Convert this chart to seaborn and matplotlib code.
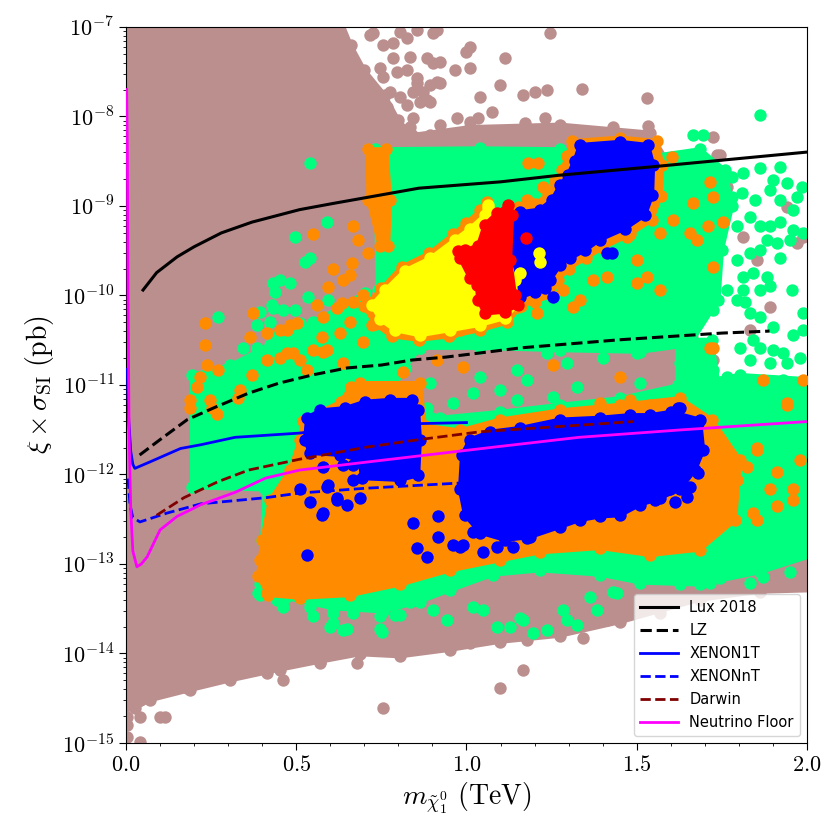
import numpy as np
import seaborn as sns
import matplotlib
matplotlib.use("Agg")
import matplotlib.pyplot as plt
from matplotlib.ticker import FuncFormatter, MultipleLocator, NullFormatter

plt.rcParams['mathtext.fontset'] = 'cm'

# ---- exclusion / projection curves ----
lux_x = [0.05, 0.09, 0.15, 0.20, 0.28, 0.37, 0.51, 0.61, 0.71, 0.86, 1.10, 1.27, 1.55, 2.00]
lux_y = [1.15e-10, 1.8e-10, 2.7e-10, 3.5e-10, 5.0e-10, 6.6e-10, 9.1e-10, 1.07e-9, 1.25e-9,
         1.58e-9, 1.86e-9, 2.2e-9, 2.75e-9, 4.0e-9]

lz_x = [0.04, 0.10, 0.18, 0.26, 0.36, 0.45, 0.55, 0.65, 0.75, 0.84, 0.94, 1.04, 1.16, 1.45, 1.75, 1.89]
lz_y = [1.65e-12, 2.45e-12, 4.1e-12, 5.6e-12, 8.1e-12, 1.05e-11, 1.3e-11, 1.55e-11, 1.67e-11,
        1.9e-11, 2.05e-11, 2.28e-11, 2.6e-11, 3.2e-11, 3.8e-11, 4.0e-11]

x1t_x = [0.004, 0.008, 0.014, 0.020, 0.026, 0.07, 0.16, 0.22, 0.32, 0.51, 0.54, 0.86, 1.0]
x1t_y = [1.5e-11, 4e-12, 1.8e-12, 1.3e-12, 1.17e-12, 1.38e-12, 1.95e-12, 2.15e-12, 2.6e-12,
         2.9e-12, 3.0e-12, 3.7e-12, 3.8e-12]

xnt_x = [0.006, 0.012, 0.020, 0.041, 0.12, 0.22, 0.41, 0.51, 0.70, 1.0]
xnt_y = [9e-13, 4.5e-13, 3.3e-13, 2.95e-13, 3.7e-13, 4.7e-13, 5.5e-13, 6.2e-13, 7.0e-13, 8.1e-13]

darwin_x = [0.09, 0.17, 0.27, 0.36, 0.51, 0.71, 0.86, 1.04, 1.49]
darwin_y = [3.5e-13, 5.5e-13, 8.3e-13, 1.12e-12, 1.48e-12, 2.03e-12, 2.45e-12, 3.0e-12, 3.9e-12]

nu_x = [0.002, 0.004, 0.006, 0.009, 0.014, 0.020, 0.032, 0.045, 0.062, 0.10, 0.15, 0.22,
        0.32, 0.41, 0.51, 0.71, 1.07, 1.33, 1.63, 2.0]
nu_y = [2e-8, 4e-9, 1e-10, 3e-12, 4e-13, 1.4e-13, 9.3e-14, 1.0e-13, 1.2e-13, 2.4e-13, 3.4e-13,
        4.6e-13, 6.3e-13, 9.1e-13, 1.12e-12, 1.38e-12, 2.0e-12, 2.6e-12, 3.15e-12, 3.9e-12]

# ---- scan points: dense areas (outline) + loose points ----
brown_area_x = [-0.02, 0.63, 0.66, 0.70, 0.76, 0.80, 0.84, 1.01, 1.275, 1.539, 1.59, 1.656, 1.686,
                1.745, 1.92, 2.02, 2.02, 1.862, 1.686, 1.451, 1.275, 1.098, 0.952, 0.805, 0.687,
                0.57, 0.452, 0.305, 0.188, 0.07, 0.026, -0.02]
brown_area_y = [1.2e-7, 1.2e-7, 6.3e-8, 3.3e-8, 1.74e-8, 9.1e-9, 6.2e-9, 7.6e-9, 8.1e-9, 6.6e-9,
                3.2e-9, 2.5e-10, 1.15e-11, 1.12e-12, 5.2e-13, 3.1e-13, 5.1e-14, 4.9e-14, 4.0e-14,
                2.24e-14, 1.58e-14, 1.35e-14, 1.1e-14, 9.3e-15, 9.8e-15, 8.1e-15, 6.6e-15, 5.0e-15,
                3.9e-15, 3.0e-15, 2.45e-15, 2.2e-15]
brown_x = [0.725, 0.784, 0.834, 0.755, 0.805, 0.767, 0.855, 0.775, 0.834,
           0.902, 1.245, 1.01, 1.113, 1.098, 1.04, 1.166, 1.20, 1.236, 1.339, 1.53, 1.43, 1.533,
           1.724, 1.736, 0.972, 1.034, 0.902, 0.922, 0.884, 1.172, 1.23, 0.966, 1.075,
           0.717, 0.755, 0.805, 0.855, 0.913, 0.825, 0.746, 0.784, 0.796, 0.825, 0.884, 0.922, 0.893,
           0.855, 0.872, 0.913, 0.843, 0.825, 0.863, 0.893, 0.775, 0.843, 0.952, 1.01, 1.01, 1.0,
           0.893, 0.922,
           1.745, 1.765, 1.753, 1.812, 1.853, 1.686, 1.941, 1.988, 1.891, 1.833, 1.665, 1.598,
           1.656, 1.724, 1.97, 1.979, 1.941,
           0.003, 0.041, 0.10, 0.115, 0.003, 0.041, 0.461, 0.755, 1.166, 1.098, 0.003,
           1.342, 1.178, 1.01, 0.884, 1.413, 1.489, 1.568, 1.665, 1.724, 1.90, 1.988,
           0.179, 0.217, 0.414, 0.49, 0.57, 0.678, 0.041]
brown_y = [8.5e-8, 6.6e-8, 4.6e-8, 2.75e-8, 1.66e-8, 1.29e-8, 2.35e-8, 7.1e-9, 7.6e-9,
           8.5e-8, 8.5e-8, 6.0e-8, 4.5e-8, 2.24e-8, 1.66e-8, 1.74e-8, 1.86e-8, 2.0e-8, 2.04e-8,
           1.62e-8, 7.6e-9, 7.8e-9, 5.9e-9, 3.7e-9, 9.5e-9, 9.5e-9, 4.0e-8, 2.35e-8, 1.51e-8,
           8.5e-9, 9.5e-9, 3.3e-8, 1.12e-8,
           8.1e-8, 6.3e-8, 8.7e-8, 9.3e-8, 9.3e-8, 7.6e-8, 3.5e-8, 4.5e-8, 3.1e-8, 3.3e-8, 4.5e-8,
           4.1e-8, 2.24e-8, 2.7e-8, 1.86e-8, 2.45e-8, 1.86e-8, 1.35e-8, 1.45e-8, 1.45e-8, 1.86e-8,
           9.5e-9, 6.2e-9, 8.7e-9, 3.5e-8, 5.2e-8, 6.2e-9, 8.1e-9,
           3.7e-9, 1.62e-9, 8.3e-10, 4.5e-10, 2.5e-10, 1.38e-10, 9.8e-10, 4.5e-10, 7.4e-11, 4.1e-11,
           4.5e-11, 6.3e-11, 2.95e-11, 1.9e-11, 3.9e-10, 2.24e-12, 1.2e-12,
           1.95e-15, 1.95e-15, 1.95e-15, 1.95e-15, 1.17e-15, 1.02e-15, 5.0e-15, 2.45e-15, 6.6e-15,
           4.1e-15, 1.58e-15,
           1.48e-14, 1.41e-14, 1.32e-14, 1.32e-14, 2.35e-14, 3.1e-14, 2.8e-14, 4.8e-14, 6.6e-14,
           6.2e-14, 6.2e-14,
           4.1e-15, 5.5e-15, 6.0e-15, 8.9e-15, 7.8e-15, 7.8e-15, 3.0e-15]

green_upper_x = [0.731, 1.04, 1.275, 1.451, 1.686, 1.76, 1.78, 1.75, 1.74, 1.656, 1.51, 1.275,
                 1.04, 0.863, 0.761, 0.74]
green_upper_y = [4.3e-9, 4.4e-9, 4.3e-9, 3.2e-9, 4.3e-9, 2.5e-9, 1.0e-9, 3.2e-10, 8.9e-11, 2.8e-11,
                 2.35e-11, 2.45e-11, 2.6e-11, 2.6e-11, 4.1e-11, 1.15e-10]
green_lower_x = [0.194, 0.305, 0.423, 0.549, 0.702, 0.761, 0.863, 0.819, 0.775, 0.922, 1.098, 1.275,
                 1.451, 1.627, 1.803, 2.02, 2.02, 1.862, 1.686, 1.51, 1.392, 1.216, 1.078, 0.952,
                 0.863, 0.755, 0.608, 0.467, 0.408, 0.40, 0.408, 0.194]
green_lower_y = [1.29e-11, 1.66e-11, 2.8e-11, 5.0e-11, 1.07e-10, 5.4e-11, 2.6e-11, 1.55e-11, 7.8e-12,
                 4.3e-12, 5.0e-12, 6.0e-12, 7.1e-12, 1.0e-11, 1.29e-11, 1.15e-11, 1.26e-13, 8.1e-14,
                 5.9e-14, 6.2e-14, 7.6e-14, 8.5e-14, 7.6e-14, 5.1e-14, 3.8e-14, 2.95e-14, 3.2e-14,
                 4.2e-14, 6.6e-14, 1.86e-13, 6.8e-13, 7.2e-13]
green_right_x = [1.62, 1.72, 1.74, 1.62]
green_right_y = [3.2e-11, 3.2e-11, 1.0e-11, 1.0e-11]
green_x = [1.862, 1.665, 1.694,
           1.862, 1.921, 1.90, 1.812, 1.78, 1.78, 1.809, 1.847, 1.891, 1.941, 1.921, 1.97, 1.959,
           1.985, 1.833, 1.794, 1.862, 1.891, 1.921, 1.959, 1.988, 1.883, 1.912, 1.95, 1.862, 1.833,
           1.921, 1.794, 1.812, 1.841, 1.883, 1.862, 1.891, 1.956, 1.812, 1.794, 1.765, 1.724, 1.706,
           1.833, 1.862, 1.90, 1.818, 1.988, 1.959, 1.841, 1.803, 1.862, 1.90, 1.929, 1.833, 1.891,
           1.979, 1.941, 1.695, 1.627, 1.665, 1.724, 1.765, 1.803, 1.929, 1.959, 1.988,
           0.893, 1.04, 1.019, 1.148, 1.178, 1.098, 1.148, 1.254, 1.324, 1.401, 1.51, 1.392, 0.884,
           0.96, 1.50, 1.295, 1.236,
           0.54, 0.59, 0.496, 0.526, 0.54, 0.432, 0.452, 0.482, 0.438, 0.535, 0.593, 0.27, 0.394,
           0.432, 0.461, 0.496, 0.385, 0.423, 0.511, 0.344, 0.385, 0.443, 0.49, 0.335, 0.297, 0.267,
           0.226, 0.276, 0.429,
           0.394, 0.461, 0.511, 0.54, 0.608, 0.649, 0.599, 0.667, 0.746, 0.746, 0.805, 0.834, 0.902,
           0.943, 1.019, 1.048, 1.089, 1.195, 1.236, 1.324, 1.166, 1.283, 1.383, 1.442, 1.363, 1.128,
           1.295, 1.157, 1.43, 1.589, 1.627, 1.715, 1.745, 1.833, 1.871, 1.95, 1.979, 0.394, 0.388,
           0.443, 0.608, 0.637, 0.752, 0.79, 0.549]
green_y = [1.05e-8, 6.2e-9, 6.2e-9,
           2.66e-9, 2.73e-9, 1.95e-9, 2.34e-9, 2.1e-9, 1.26e-9, 1.41e-9, 1.17e-9, 1.51e-9, 1.82e-9,
           1.17e-9, 1.26e-9, 9.1e-10, 1.62e-9, 7.6e-10, 5.9e-10, 5.9e-10, 5.9e-10, 6.6e-10, 5.4e-10,
           5.0e-10, 4.2e-10, 3.9e-10, 4.2e-10, 3.2e-10, 2.95e-10, 2.6e-10, 2.5e-10, 1.62e-10, 1.78e-10,
           1.62e-10, 1.15e-10, 1.26e-10, 1.15e-10, 1.15e-10, 8.9e-11, 1.15e-10, 6.9e-11, 7.4e-11,
           6.3e-11, 5.8e-11, 4.5e-11, 8.5e-11, 6.3e-11, 3.6e-11, 3.2e-11, 2.6e-11, 2.6e-11, 2.45e-11,
           2.3e-11, 1.9e-11, 1.78e-11, 2.0e-11, 1.78e-11, 1.78e-11, 1.78e-11, 1.15e-11, 1.48e-11,
           1.23e-11, 9.5e-12, 1.15e-11, 1.05e-11, 4.1e-11,
           1.05e-11, 1.23e-11, 8.1e-12, 1.48e-11, 1.15e-11, 8.7e-12, 6.8e-12, 7.4e-12, 9.5e-12, 2.0e-11,
           1.05e-11, 5.2e-12, 5.6e-12, 6.3e-12, 2.3e-11, 1.78e-11, 2.3e-11,
           3.0e-9, 6.6e-10, 4.5e-10, 2.35e-10, 2.6e-10, 1.38e-10, 1.48e-10, 1.38e-10, 1.1e-10, 9.5e-11,
           8.9e-11, 5.8e-11, 6.6e-11, 7.2e-11, 6.9e-11, 6.9e-11, 4.7e-11, 5.0e-11, 4.9e-11, 2.6e-11,
           2.6e-11, 3.5e-11, 3.4e-11, 1.55e-11, 1.29e-11, 8.7e-12, 1.05e-11, 6.8e-12, 7.8e-11,
           4.5e-14, 3.3e-14, 4.2e-14, 3.3e-14, 2.8e-14, 1.9e-14, 2.0e-14, 2.8e-14, 1.9e-14, 2.6e-14,
           2.7e-14, 3.8e-14, 3.1e-14, 2.35e-14, 3.3e-14, 3.1e-14, 2.0e-14, 1.7e-14, 1.82e-14, 2.1e-14,
           2.35e-14, 3.1e-14, 3.1e-14, 4.8e-14, 4.3e-14, 2.0e-14, 2.35e-14, 2.5e-14, 4.9e-14, 7.6e-14,
           5.9e-14, 6.2e-14, 6.9e-14, 6.2e-14, 7.1e-14, 8.1e-14, 1.32e-13, 5.9e-14, 4.8e-14, 4.0e-14,
           2.2e-14, 1.82e-14, 1.74e-14, 2.7e-14, 2.6e-14]

orange_strip_x = [0.71, 0.765, 0.775, 0.77, 0.745, 0.712]
orange_strip_y = [4.3e-9, 4.3e-9, 1.17e-9, 3.6e-10, 3.6e-10, 1.17e-9]
orange_yel_x = [0.70, 0.75, 0.81, 0.89, 0.96, 1.0, 1.04, 1.06, 1.16, 1.12, 1.04, 0.95, 0.86, 0.78, 0.73]
orange_yel_y = [7.6e-11, 1.2e-10, 2.1e-10, 2.95e-10, 4.8e-10, 6.5e-10, 8.9e-10, 1.12e-9, 7.6e-11,
                5.0e-11, 4.1e-11, 3.5e-11, 3.2e-11, 3.5e-11, 4.8e-11]
orange_blue_x = [1.31, 1.45, 1.56, 1.575, 1.57, 1.545, 1.48, 1.40, 1.35, 1.30, 1.27, 1.25, 1.20,
                 1.15, 1.125, 1.115, 1.115, 1.15, 1.20, 1.24, 1.26, 1.28, 1.295]
orange_blue_y = [5.3e-9, 5.8e-9, 5.3e-9, 2.9e-9, 1.3e-9, 7.0e-10, 4.8e-10, 3.4e-10, 2.6e-10, 2.0e-10,
                 1.5e-10, 1.0e-10, 8.5e-11, 7.5e-11, 1.6e-10, 3.2e-10, 8.0e-10, 9.8e-10, 1.05e-9,
                 1.35e-9, 1.9e-9, 2.5e-9, 3.6e-9]
orange_lower_x = [0.40, 0.423, 0.482, 0.511, 0.52, 0.63, 0.66, 0.687, 0.863, 0.878, 0.981, 1.098,
                  1.275, 1.451, 1.627, 1.721, 1.803, 1.789, 1.686, 1.539, 1.392, 1.216, 1.098, 0.952,
                  0.805, 0.658, 0.511, 0.417, 0.388]
orange_lower_y = [1.86e-13, 5.2e-13, 1.12e-12, 2.45e-12, 4.0e-12, 6.5e-12, 9.5e-12, 1.05e-11, 1.05e-11,
                  3.5e-12, 3.1e-12, 4.1e-12, 5.2e-12, 6.0e-12, 7.1e-12, 4.1e-12, 1.45e-12, 3.1e-13,
                  1.45e-13, 1.26e-13, 1.51e-13, 1.35e-13, 1.1e-13, 8.5e-14, 5.9e-14, 4.5e-14, 4.2e-14,
                  4.5e-14, 7.4e-14]
orange_x = [0.667, 0.681, 0.549, 0.608, 0.664, 0.711, 0.593, 0.637, 0.658, 0.696, 0.561, 0.62, 0.634,
            0.722, 0.658, 0.473, 0.373, 0.414, 0.364, 0.232, 0.232, 0.238, 0.27, 0.217, 0.208, 0.188,
            0.253, 0.329, 0.473, 0.511, 0.549, 0.59, 0.628, 0.576, 0.696, 0.482, 0.188, 0.267, 0.247,
            0.335, 0.37, 0.414, 0.452, 0.49, 0.532, 0.579, 0.637, 0.814, 0.913, 0.902, 0.96, 0.452,
            0.502, 0.579, 0.667,
            1.254, 0.99, 1.451, 1.48, 1.392, 1.413, 1.724, 1.539,
            1.715, 1.724, 1.753, 1.709, 1.665, 1.724, 1.603, 1.871, 1.988, 1.941, 1.715, 1.677, 1.656,
            1.979, 1.853, 1.891, 1.959, 1.841, 1.745, 1.794, 1.715, 1.912, 1.941, 1.853, 1.824, 1.912,
            1.959, 1.783, 1.853,
            0.394, 0.414, 0.443, 0.49, 0.473, 0.511, 0.443, 1.18, 1.21,
            1.471, 1.548, 1.413, 1.333, 1.236, 1.283, 1.313, 1.207, 1.371, 1.50, 1.53, 1.568, 1.50,
            1.098, 0.981, 0.893, 1.225, 1.178, 1.568, 1.606]
orange_y = [5.9e-10, 4.2e-10, 4.8e-10, 2.0e-10, 2.3e-10, 2.95e-10, 1.23e-10, 1.48e-10, 1.7e-10, 1.02e-10,
            7.8e-11, 7.2e-11, 8.3e-11, 4.7e-11, 5.0e-11, 4.1e-11, 6.3e-11, 3.8e-11, 3.4e-11, 4.9e-11,
            2.8e-11, 1.66e-11, 1.48e-11, 1.23e-11, 9.5e-12, 5.5e-12, 5.5e-12, 7.1e-12, 2.3e-11, 1.9e-11,
            2.45e-11, 2.45e-11, 3.8e-11, 3.4e-11, 3.0e-11, 4.7e-11, 6.8e-12, 4.7e-12, 6.8e-12, 8.7e-12,
            1.29e-11, 1.9e-11, 2.0e-11, 2.3e-11, 1.48e-11, 2.35e-11, 1.78e-11, 1.41e-11, 1.9e-11,
            3.8e-11, 3.9e-11, 4.1e-11, 4.9e-11, 5.8e-11, 8.5e-11,
            1.66e-11, 1.58e-11, 1.23e-11, 6.8e-12, 6.3e-12, 4.4e-12, 2.6e-11, 6.0e-12,
            1.86e-9, 1.26e-9, 6.6e-10, 5.9e-10, 1.07e-9, 2.1e-10, 3.5e-9, 1.15e-11, 1.15e-11, 6.0e-12,
            2.6e-11, 4.2e-10, 5.0e-10, 1.45e-12, 1.86e-12, 6.8e-13, 5.2e-13, 3.7e-13, 6.8e-13, 8.7e-13,
            3.1e-13, 4.4e-13, 6.3e-12, 2.0e-12, 1.2e-12, 1.07e-12, 6.8e-13, 8.7e-13, 3.1e-13,
            1.1e-13, 4.8e-14, 7.1e-14, 1.55e-13, 2.0e-13, 3.1e-13, 2.4e-13, 3.0e-9, 3.0e-9,
            4.5e-10, 1.17e-9, 1.62e-10, 8.9e-11, 1.07e-10, 1.15e-10, 7.4e-11, 6.3e-11, 1.48e-10, 2.5e-10,
            1.62e-10, 1.15e-10, 1.38e-10, 5.4e-11, 4.1e-11, 3.8e-11, 1.62e-9, 1.17e-9, 5.0e-10, 6.9e-10]

blue_upper_x = [1.333, 1.451, 1.533, 1.548, 1.545, 1.524, 1.466, 1.392, 1.348, 1.304, 1.275, 1.245,
                1.23, 1.20, 1.157, 1.148, 1.134, 1.134, 1.157, 1.216, 1.251, 1.275, 1.298, 1.318]
blue_upper_y = [4.8e-9, 5.2e-9, 4.8e-9, 2.9e-9, 1.32e-9, 7.9e-10, 5.6e-10, 4.2e-10, 3.2e-10, 2.6e-10,
                2.2e-10, 1.48e-10, 1.2e-10, 1.1e-10, 9.5e-11, 1.7e-10, 3.2e-10, 7.4e-10, 8.5e-10,
                9.1e-10, 1.17e-9, 1.7e-9, 2.24e-9, 3.2e-9]
blue_left_x = [0.532, 0.57, 0.643, 0.702, 0.775, 0.84, 0.858, 0.863, 0.858, 0.805, 0.693, 0.687,
               0.628, 0.54, 0.526]
blue_left_y = [4.3e-12, 5.2e-12, 5.5e-12, 6.5e-12, 6.8e-12, 6.8e-12, 5.2e-12, 2.45e-12, 9.8e-13,
               8.7e-13, 9.1e-13, 1.45e-12, 1.66e-12, 1.74e-12, 2.45e-12]
blue_right_x = [0.987, 1.01, 1.069, 1.157, 1.275, 1.392, 1.48, 1.539, 1.60, 1.686, 1.695, 1.671,
                1.627, 1.554, 1.51, 1.451, 1.392, 1.333, 1.275, 1.186, 1.113, 1.04, 0.996, 0.981]
blue_right_y = [1.66e-12, 2.45e-12, 3.0e-12, 3.3e-12, 4.1e-12, 4.3e-12, 4.6e-12, 4.6e-12, 5.0e-12,
                4.1e-12, 1.86e-12, 1.12e-12, 6.8e-13, 5.2e-13, 4.6e-13, 3.5e-13, 3.4e-13, 3.1e-13,
                2.6e-13, 2.0e-13, 1.86e-13, 2.24e-13, 3.5e-13, 6.8e-13]
blue_x = [1.254, 1.413, 1.427, 1.621,
          0.511, 0.54, 0.59, 0.62, 0.649, 0.579, 0.637, 0.667, 0.667, 0.687, 0.532, 0.843, 0.916,
          0.916, 0.855, 0.884, 0.96, 0.99, 1.048, 1.019, 0.579, 0.593, 0.62, 0.576, 1.089, 1.137,
          1.178, 0.981,
          1.627, 1.68, 1.686, 1.68, 1.656, 1.648, 1.612, 1.598, 1.568]
blue_y = [9.5e-11, 2.95e-10, 2.95e-10, 5.6e-12,
          6.8e-13, 4.9e-13, 7.2e-13, 5.5e-13, 4.6e-13, 3.7e-13, 1.29e-12, 1.29e-12, 8.7e-13, 5.5e-13,
          1.26e-13, 2.9e-13, 3.4e-13, 2.0e-13, 1.51e-13, 1.2e-13, 1.62e-13, 1.62e-13, 1.35e-13,
          2.3e-13, 1.2e-12, 7.6e-13, 5.2e-13, 3.5e-13, 1.55e-13, 1.55e-13, 1.95e-13, 1.55e-13,
          5.5e-12, 3.8e-12, 1.86e-12, 1.05e-12, 7.2e-13, 5.6e-13, 4.9e-13, 6.8e-13, 5.5e-13]

yellow_area_x = [0.722, 0.761, 0.819, 0.893, 0.966, 1.01, 1.054, 1.063, 1.098, 1.142, 1.148, 1.113,
                 1.04, 0.952, 0.863, 0.79, 0.746]
yellow_area_y = [7.8e-11, 1.15e-10, 1.9e-10, 2.6e-10, 4.2e-10, 5.6e-10, 7.9e-10, 1.02e-9, 4.8e-10,
                 1.48e-10, 7.8e-11, 5.6e-11, 4.7e-11, 4.1e-11, 3.6e-11, 4.1e-11, 5.4e-11]
yellow_x = [1.213, 1.216, 1.063, 1.157]
yellow_y = [2.95e-10, 2.35e-10, 9.5e-10, 1.78e-10]

red_area_x = [1.089, 1.122, 1.134, 1.128, 1.142, 1.151, 1.113, 1.054, 1.034, 1.031, 1.01, 0.981,
              0.996, 1.034, 1.054]
red_area_y = [8.3e-10, 1.02e-9, 7.9e-10, 2.5e-10, 1.02e-10, 7.8e-11, 6.6e-11, 6.3e-11, 8.9e-11,
              1.32e-10, 1.58e-10, 2.6e-10, 3.2e-10, 3.6e-10, 6.2e-10]
red_x = [1.175, 0.975]
red_y = [4.4e-10, 3.1e-10]

fig, ax = plt.subplots(figsize=(8.4, 8.4), dpi=100)
fig.subplots_adjust(left=0.15, right=0.9607, top=0.9679, bottom=0.1155)
ax.set_yscale('log')
ax.set_xlim(0, 2)
ax.set_ylim(1e-15, 1e-7)

def draw(areas, px, py, color, z):
    for ax_x, ax_y in areas:
        ax.fill(ax_x, ax_y, color=color, lw=3, joinstyle='round', zorder=z)
        # outline points of the dense cloud
        sns.scatterplot(x=ax_x, y=ax_y, color=color, s=80, linewidth=0, zorder=z, ax=ax)
    sns.scatterplot(x=px, y=py, color=color, s=80, linewidth=0, zorder=z, ax=ax)

draw([(brown_area_x, brown_area_y)], brown_x, brown_y, 'rosybrown', 1)
draw([(green_upper_x, green_upper_y), (green_lower_x, green_lower_y),
      (green_right_x, green_right_y)], green_x, green_y, 'springgreen', 2)
draw([(orange_strip_x, orange_strip_y), (orange_yel_x, orange_yel_y),
      (orange_blue_x, orange_blue_y), (orange_lower_x, orange_lower_y)],
     orange_x, orange_y, 'darkorange', 3)
draw([(blue_upper_x, blue_upper_y), (blue_left_x, blue_left_y),
      (blue_right_x, blue_right_y)], blue_x, blue_y, 'blue', 4)
draw([(yellow_area_x, yellow_area_y)], yellow_x, yellow_y, 'yellow', 5)
draw([(red_area_x, red_area_y)], red_x, red_y, 'red', 6)

kw = dict(sort=False, estimator=None, ax=ax, zorder=8)
sns.lineplot(x=lux_x, y=lux_y, color='black', lw=2.2, label='Lux 2018', **kw)
sns.lineplot(x=lz_x, y=lz_y, color='black', lw=2.2, linestyle='--', label='LZ', **kw)
sns.lineplot(x=x1t_x, y=x1t_y, color='blue', lw=2, label='XENON1T', **kw)
sns.lineplot(x=xnt_x, y=xnt_y, color='blue', lw=2, linestyle='--', label='XENONnT', **kw)
sns.lineplot(x=darwin_x, y=darwin_y, color='maroon', lw=2, linestyle='--', label='Darwin', **kw)
sns.lineplot(x=nu_x, y=nu_y, color='magenta', lw=2, label='Neutrino Floor', **kw)

ax.xaxis.set_major_locator(MultipleLocator(0.5))
ax.xaxis.set_minor_locator(MultipleLocator(0.1))
ax.xaxis.set_major_formatter(FuncFormatter(lambda v, p: r'$%.1f$' % v))
ax.yaxis.set_major_formatter(FuncFormatter(lambda v, p: r'$10^{%d}$' % int(round(np.log10(v)))))
ax.yaxis.set_minor_formatter(NullFormatter())
ax.tick_params(labelsize=16)
ax.tick_params(which='major', length=5)

ax.set_xlabel(r'$m_{\tilde{\chi}_1^0}\ (\mathrm{TeV})$', fontsize=20)
ax.set_ylabel(r'$\xi \times \sigma_{\mathrm{SI}}\ (\mathrm{pb})$', fontsize=20)
ax.legend(loc='lower right', fontsize=10.5, labelspacing=0.55, handlelength=2.6)

plt.savefig('out.png', dpi=100)
